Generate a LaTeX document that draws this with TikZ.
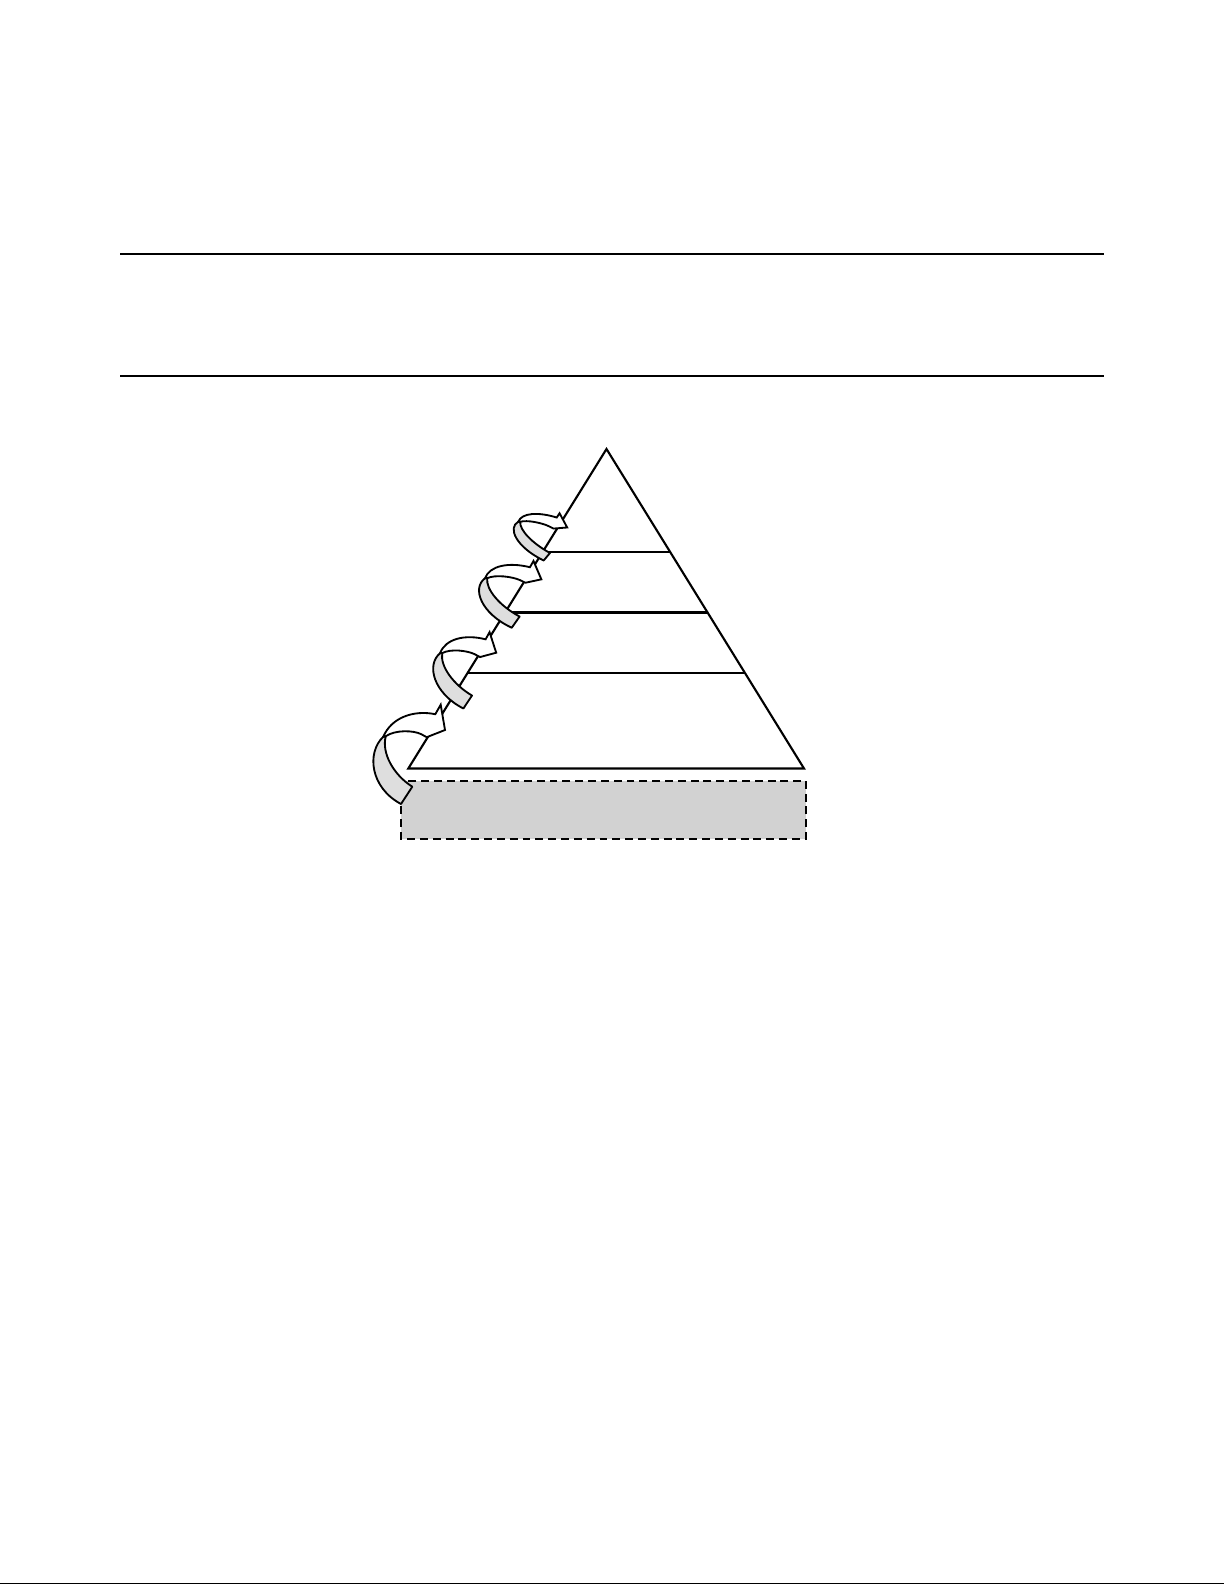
\documentclass[tikz,border=0pt]{standalone}
\usetikzlibrary{calc}
\definecolor{boxgray}{RGB}{210,210,210}
\definecolor{bandgray}{RGB}{222,222,222}
\tikzset{
  rule/.style={line width=1.2pt},
  footrule/.style={line width=0.9pt},
  tri/.style={line width=1.2pt, line join=miter},
  level/.style={line width=1.2pt},
  dashbox/.style={draw, fill=boxgray, line width=0.95pt, dash pattern=on 4.5pt off 2.8pt},
  band/.style={draw, fill=bandgray, line width=1.05pt, line join=round},
  front/.style={draw, fill=white, line width=1.05pt, line join=miter},
}
\newcommand\myCurvedArrow{%
  \draw[band] (0,0) .. controls (-17,16) and (-13,51) .. (17.7,67.3)
     -- (29,50) .. controls (10,38) and (-2,16) .. (2.5,-0.5) -- cycle;
  \draw[front] (0,0) .. controls (8,-19) and (30,-27) .. (52,-22.5)
     -- (57.4,-32) -- (61.7,-6.7) -- (43.4,0.5) -- (38,-2.5)
     .. controls (30,-6.5) and (12,-7) .. (2.5,-0.5) -- cycle;
}
\begin{document}
\begin{tikzpicture}[x=0.02cm,y=-0.02cm]
  \useasboundingbox (0,0) rectangle (1225,1585);
  % header rules
  \coordinate (r1a) at (120,254);  \coordinate (r1b) at (1104,254);
  \coordinate (r2a) at (120,376);  \coordinate (r2b) at (1104,376);
  \draw[rule] (r1a) -- (r1b);
  \draw[rule] (r2a) -- (r2b);
  % footer rule
  \coordinate (fa) at (0,1583.6); \coordinate (fb) at (1224,1583.6);
  \draw[footrule] (fa) -- (fb);
  % pyramid
  \coordinate (apex) at (606.5,449);
  \coordinate (bl) at (408.3,768.5);
  \coordinate (br) at (804,768.5);
  \draw[tri] (apex) -- (bl) -- (br) -- cycle;
  \foreach \t/\n in {0.3233/1,0.5117/2,0.7011/3}{
    \coordinate (l\n) at ($(apex)!\t!(bl)$);
    \coordinate (r\n) at ($(apex)!\t!(br)$);
    \draw[level] (l\n) -- (r\n);
  }
  % dashed base box
  \coordinate (boxa) at (401,780.7);
  \coordinate (boxb) at (806,838.7);
  \draw[dashbox] (boxa) rectangle (boxb);
  % curved arrows
  \begin{scope}[shift={(383.3,736.7)}]
    \myCurvedArrow
  \end{scope}
  \begin{scope}[shift={(440,653.3)}, cm={0.922,-0.077,-0.105,0.80,(0,0)}]
    \myCurvedArrow
  \end{scope}
  \begin{scope}[shift={(485,578.3)}, cm={0.93,-0.094,-0.153,0.71,(0,0)}]
    \myCurvedArrow
  \end{scope}
  \begin{scope}[shift={(518.3,521.7)}, cm={0.81,-0.152,-0.164,0.537,(0,0)}]
    \myCurvedArrow
  \end{scope}
\end{tikzpicture}
\end{document}
